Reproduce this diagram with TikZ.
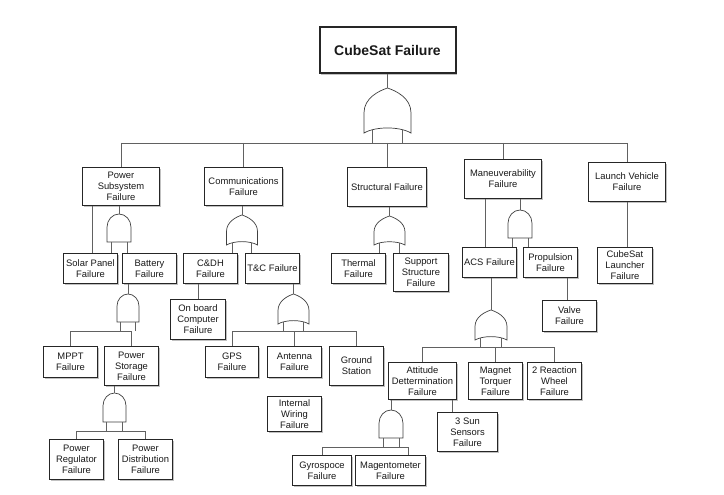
\documentclass[tikz,border=0pt]{standalone}
\usepackage{fontspec}
\setmainfont{Liberation Sans}
\usetikzlibrary{shadows}
\newcommand\fs{\fontsize{9.4}{11}\selectfont}
\tikzset{
  fbox/.style={draw=black!85, line width=1.7pt, fill=white, align=center, inner sep=0pt,
    font=\fs, text=black!90,
    drop shadow={shadow xshift=1.3pt, shadow yshift=-1.3pt, fill=black!30, opacity=0.8}},
  conn/.style={draw=black!62, line width=0.9pt},
  gate/.style={draw=black!75, line width=0.7pt, fill=white},
}
% box: name, cx, cy, w, h, text
\newcommand\fbx[6]{\node[fbox, minimum width=#4pt, minimum height=#5pt] (#1) at (#2,#3) {#6};}
% OR gate: name, cx, top, halfwidth, height
\newcommand\orgate[5]{%
  \coordinate (#1) at (#2,#3);
  \coordinate (#1-l) at ({#2-0.64*#4},{#3+0.93*#5});
  \coordinate (#1-r) at ({#2+0.64*#4},{#3+0.93*#5});
  \filldraw[gate] ({#2-#4},{#3+#5}) -- ({#2-#4},{#3+0.55*#5})
    .. controls ({#2-#4},{#3+0.22*#5}) and ({#2-0.35*#4},{#3+0.06*#5}) .. (#2,#3)
    .. controls ({#2+0.35*#4},{#3+0.06*#5}) and ({#2+#4},{#3+0.22*#5}) .. ({#2+#4},{#3+0.55*#5})
    -- ({#2+#4},{#3+#5})
    .. controls ({#2+0.5*#4},{#3+0.85*#5}) and ({#2-0.5*#4},{#3+0.85*#5}) .. ({#2-#4},{#3+#5}) -- cycle;}
% AND gate: name, cx, top, halfwidth, height
\newcommand\andgate[5]{%
  \coordinate (#1) at (#2,#3);
  \coordinate (#1-l) at ({#2-0.67*#4},{#3+#5});
  \coordinate (#1-r) at ({#2+0.67*#4},{#3+#5});
  \filldraw[gate] ({#2-#4},{#3+#5}) -- ({#2-#4},{#3+1.1*#4})
    .. controls ({#2-#4},{#3+0.5*#4}) and ({#2-0.55*#4},{#3}) .. (#2,#3)
    .. controls ({#2+0.55*#4},{#3}) and ({#2+#4},{#3+0.5*#4}) .. ({#2+#4},{#3+1.1*#4})
    -- ({#2+#4},{#3+#5}) -- cycle;}
\begin{document}
\begin{tikzpicture}[x=1pt,y=-1pt]
\useasboundingbox[fill=white] (0,0) rectangle (724,495);

% ---- top
\node[fbox, line width=2pt, minimum width=136pt, minimum height=46pt, font=\fontsize{14}{16}\selectfont\bfseries] (top) at (387.5,50.5) {CubeSat Failure};
\orgate{g0}{387.5}{88}{23.5}{45}
\coordinate (b0) at (0,143);

% ---- level 1
\fbx{pwr}{121}{186.5}{77}{38}{Power\\Subsystem\\Failure}
\fbx{com}{243.5}{186.5}{78}{38}{Communications\\Failure}
\fbx{str}{387}{187}{79}{39}{Structural Failure}
\fbx{man}{503}{179}{77}{39}{Maneuverability\\Failure}
\fbx{lv}{627}{182}{77}{39}{Launch Vehicle\\Failure}

\draw[conn] (top.south) -- (g0);
\draw[conn] (g0-l) -- (g0-l |- b0);
\draw[conn] (g0-r) -- (g0-r |- b0);
\draw[conn] (pwr.north |- b0) -- (lv.north |- b0);
\foreach \n in {pwr,com,str,man,lv} \draw[conn] (\n.north |- b0) -- (\n.north);

% ---- power subsystem
\fbx{sp}{90.5}{268.5}{54}{30}{Solar Panel\\Failure}
\fbx{bat}{149.5}{268.5}{54}{30}{Battery\\Failure}
\andgate{g1}{119}{214}{12}{28}
\coordinate (x92) at (92,0);
\draw[conn] (pwr.south -| x92) -- (sp.north -| x92);
\draw[conn] (pwr.south -| g1) -- (g1);
\draw[conn] (g1-l) -- (g1-l |- sp.north);
\draw[conn] (g1-r) -- (g1-r |- bat.north);

\andgate{g2}{128}{294}{11}{28}
\coordinate (b2) at (0,331);
\fbx{mppt}{70.5}{362}{54}{31}{MPPT\\Failure}
\fbx{ps}{131.5}{366}{54}{39}{Power\\Storage\\Failure}
\draw[conn] (bat.south -| g2) -- (g2);
\draw[conn] (g2-l) -- (g2-l |- b2);
\draw[conn] (g2-r) -- (g2-r |- b2);
\draw[conn] (mppt.north |- b2) -- (mppt.north);
\draw[conn] (ps.north |- b2) -- (ps.north);
\draw[conn] (mppt.north |- b2) -- (ps.north |- b2);

\andgate{g3}{114.5}{393}{11.5}{29}
\coordinate (b3) at (0,431);
\fbx{pr}{76.5}{459.5}{54}{40}{Power\\Regulator\\Failure}
\fbx{pd}{145.5}{459.5}{54}{40}{Power\\Distribution\\Failure}
\draw[conn] (ps.south -| g3) -- (g3);
\draw[conn] (g3-l) -- (g3-l |- b3);
\draw[conn] (g3-r) -- (g3-r |- b3);
\draw[conn] (pr.north |- b3) -- (pr.north);
\draw[conn] (pd.north |- b3) -- (pd.north);
\draw[conn] (pr.north |- b3) -- (pd.north |- b3);

% ---- communications
\fbx{cdh}{210.5}{268.5}{54}{30}{C\&DH\\Failure}
\fbx{tc}{272.5}{268.5}{54}{30}{T\&C Failure}
\orgate{g4}{242}{215}{15.5}{30}
\draw[conn] (com.south -| g4) -- (g4);
\draw[conn] (g4-l) -- (g4-l |- cdh.north);
\draw[conn] (g4-r) -- (g4-r |- tc.north);
\fbx{obc}{198}{319.5}{55}{40}{On board\\Computer\\Failure}
\draw[conn] (cdh.south -| obc.north) -- (obc.north);

\orgate{g5}{293.5}{294}{15.5}{30}
\coordinate (b5) at (0,331);
\fbx{gps}{232}{362}{53}{31}{GPS\\Failure}
\fbx{ant}{294.5}{362}{54}{31}{Antenna\\Failure}
\fbx{gs}{356.5}{366}{54}{39}{Ground\\Station}
\fbx{iw}{294.5}{414}{54}{35}{Internal\\Wiring\\Failure}
\draw[conn] (tc.south -| g5) -- (g5);
\draw[conn] (g5-l) -- (g5-l |- b5);
\draw[conn] (g5-r) -- (g5-r |- b5);
\draw[conn] (gps.north |- b5) -- (gs.north |- b5);
\foreach \n in {gps,ant,gs} \draw[conn] (\n.north |- b5) -- (\n.north);

% ---- structural
\fbx{th}{358.5}{268.5}{54}{30}{Thermal\\Failure}
\fbx{ss}{421}{272.5}{55}{38}{Support\\Structure\\Failure}
\orgate{g6}{389.5}{216}{15.5}{29}
\draw[conn] (str.south -| g6) -- (g6);
\draw[conn] (g6-l) -- (g6-l |- th.north);
\draw[conn] (g6-r) -- (g6-r |- ss.north);

% ---- maneuverability
\fbx{acs}{489.5}{262.5}{54}{30}{ACS Failure}
\fbx{prop}{550.5}{262.5}{54}{30}{Propulsion\\Failure}
\andgate{g7}{520}{210}{12}{28}
\coordinate (x485) at (485,0);
\draw[conn] (man.south -| x485) -- (acs.north -| x485);
\draw[conn] (man.south -| g7) -- (g7);
\draw[conn] (g7-l) -- (g7-l |- acs.north);
\draw[conn] (g7-r) -- (g7-r |- prop.north);
\fbx{valve}{569.5}{316}{54}{31}{Valve\\Failure}
\coordinate (x567) at (567,0);
\draw[conn] (prop.south -| x567) -- (valve.north -| x567);

% ---- launch vehicle
\fbx{cl}{625}{265.5}{55}{36}{CubeSat\\Launcher\\Failure}
\draw[conn] (lv.south) -- (lv.south |- cl.north);

% ---- ACS
\orgate{g8}{491}{310}{16}{30}
\coordinate (b8) at (0,347);
\fbx{att}{422.5}{381}{68}{37}{Attitude\\Dettermination\\Failure}
\fbx{mt}{495.5}{381}{54}{37}{Magnet\\Torquer\\Failure}
\fbx{rw}{554.5}{381}{54}{37}{2 Reaction\\Wheel\\Failure}
\draw[conn] (acs.south -| g8) -- (g8);
\draw[conn] (g8-l) -- (g8-l |- b8);
\draw[conn] (g8-r) -- (g8-r |- b8);
\draw[conn] (att.north |- b8) -- (rw.north |- b8);
\foreach \n in {att,mt,rw} \draw[conn] (\n.north |- b8) -- (\n.north);

\fbx{sun}{467.5}{432}{60}{39}{3 Sun\\Sensors\\Failure}
\coordinate (x452) at (452,0);
\draw[conn] (att.south -| x452) -- (sun.north -| x452);

\andgate{g9}{391}{410}{12}{28}
\coordinate (b9) at (0,447);
\fbx{gyro}{322}{470.5}{59}{30}{Gyrospoce\\Failure}
\fbx{mag}{390.5}{470.5}{70}{30}{Magentometer\\Failure}
\coordinate (x408) at (408,0);
\draw[conn] (att.south -| g9) -- (g9);
\draw[conn] (g9-l) -- (g9-l |- b9);
\draw[conn] (g9-r) -- (g9-r |- b9);
\draw[conn] (gyro.north |- b9) -- (x408 |- b9);
\draw[conn] (gyro.north |- b9) -- (gyro.north);
\draw[conn] (x408 |- b9) -- (x408 |- mag.north);
\end{tikzpicture}
\end{document}
